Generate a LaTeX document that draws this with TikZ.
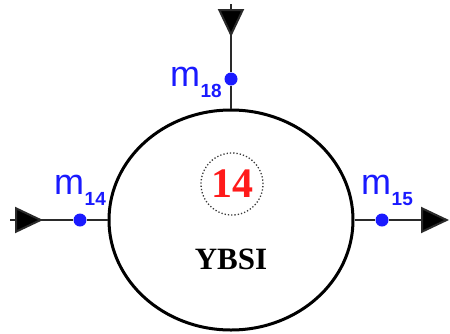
\documentclass[tikz,border=0pt]{standalone}
\usepackage{fontspec}
\setmainfont{Liberation Serif}
\newfontfamily\labelfont{Liberation Sans}
\usetikzlibrary{arrows.meta,positioning,shapes.geometric}
\definecolor{ybsiline}{HTML}{2A2A2A}
\definecolor{ybsiblue}{HTML}{1A1AFF}
\definecolor{ybsired}{HTML}{FF1A1A}
\definecolor{ybsigrey}{HTML}{3A3A3A}
\newcommand{\mname}[1]{m\kern0.5pt\raisebox{-11pt}{\fontsize{19}{19}\selectfont\bfseries #1}}

\begin{document}
\begin{tikzpicture}[x=1pt,y=-1pt,
  stream/.style={ybsiline, line width=2pt},
  flowtip/.style={ybsiline, line width=2pt, -{Triangle[length=28pt,width=26pt,fill=black]}},
  meter/.style={circle, fill=ybsiblue, inner sep=0pt, minimum size=13pt},
  mlabel/.style={text=ybsiblue, inner sep=0pt, font=\labelfont\fontsize{36}{36}\selectfont}]
  \useasboundingbox (0,0) rectangle (450,333);

  \node[ellipse, draw=black, line width=3pt, minimum width=244pt, minimum height=220pt] (unit) at (231,220) {};
  \node[circle, draw=ybsigrey, dotted, line width=1.3pt, inner sep=0pt, minimum size=62pt,
        text=ybsired, font=\bfseries\fontsize{42}{42}\selectfont] (tag) at (232,184) {14};
  \node[font=\bfseries\fontsize{31}{31}\selectfont] (name) at (231,259) {YBSI};

  % streams
  \node[meter] (m14dot) at (80,220) {};
  \node[meter] (m15dot) at (382,220) {};
  \node[meter] (m18dot) at (231,79) {};
  \coordinate (in14) at (10,220);
  \coordinate (tip14) at (43,220);
  \coordinate (tip15) at (449,220);
  \coordinate (in18) at (231,4);
  \coordinate (tip18) at (231,37);

  \draw[stream] (in14) -- (m14dot) -- (unit.west);
  \draw[flowtip] (in14) -- (tip14);
  \draw[stream] (unit.east) -- (m15dot);
  \draw[flowtip] (m15dot) -- (tip15);
  \draw[stream] (in18) -- (m18dot) -- (unit.north);
  \draw[flowtip] (in18) -- (tip18);

  \node[mlabel, anchor=base west] (m14lab) at (54,194) {\mname{14}};
  \node[mlabel, anchor=base west] (m15lab) at (361,194) {\mname{15}};
  \node[mlabel, anchor=base east] (m18lab) at (222,86) {\mname{18}};
\end{tikzpicture}
\end{document}
